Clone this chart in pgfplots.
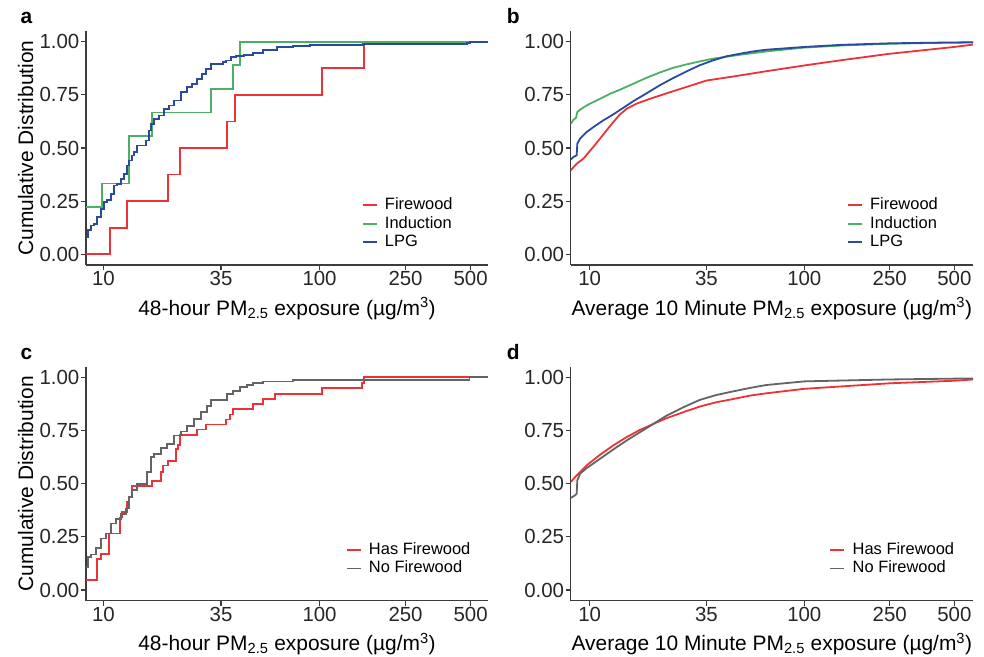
\documentclass[border=0pt]{standalone}
\usepackage{fontspec}
\setmainfont{Liberation Sans}
\usepackage{pgfplots}
\pgfplotsset{compat=1.18}

\definecolor{fw}{RGB}{235,50,55}
\definecolor{ind}{RGB}{76,175,100}
\definecolor{lpg}{RGB}{40,75,160}
\definecolor{nofw}{RGB}{100,100,100}
\definecolor{axgray}{RGB}{60,60,60}

\pgfplotsset{
  scale only axis,
  axis x line*=bottom, axis y line*=left,
  axis line style={draw=axgray, line width=1.2bp, -},
  tick style={draw=axgray, line width=1.2bp},
  tick align=outside, major tick length=5bp,
  tick label style={font=\fontsize{20.5}{24}\selectfont, text=black!85},
  xticklabel style={inner sep=1.5bp},
  yticklabel style={inner sep=1.5bp},
  label style={font=\fontsize{21}{24}\selectfont, text=black},
  every axis plot/.append style={line width=1.8bp},
  legend cell align=left,
}

\begin{document}
\begin{tikzpicture}
\useasboundingbox (0bp,0bp) rectangle (984bp,657bp);

% panel a
\begin{semilogxaxis}[at={(86bp,392bp)}, anchor=south west,
  width=402bp, height=234bp,
  xmin=8.30, xmax=602, ymin=-0.05, ymax=1.05,
  xtick={10,35,100,250,500}, xticklabels={10,35,100,250,500}, minor xtick={},
  ytick={0,0.25,0.5,0.75,1}, yticklabels={0.00,0.25,0.50,0.75,1.00},
  xlabel={48-hour PM\textsubscript{2.5} exposure (µg/m\textsuperscript{3})},
  ylabel={Cumulative Distribution},
  xlabel style={at={(axis description cs:0.5,-0.2137)}, anchor=base},
  ylabel style={at={(axis description cs:-0.1318,0.5)}, anchor=base},
  legend image code/.code={\draw[#1, line width=1.8bp] (0bp,0bp) -- (14bp,0bp); \path (20bp,0bp);},
  legend style={draw=none, fill=none, inner sep=0pt, anchor=north west,
    font=\fontsize{16.5}{18}\selectfont, row sep=0pt,
    nodes={inner sep=1.5bp, text height=12bp, text depth=3.5bp},
    at={(axis description cs:0.6853,0.2957)}}]
\addplot[fw, const plot] coordinates {
(8.30,0) (10.68,0.125) (12.81,0.25) (19.89,0.375) (22.61,0.5) (37.19,0.625)
(40.50,0.75) (102.4,0.875) (160.7,1) (602,1)};
\addplot[ind, const plot] coordinates {
(8.30,0.2222) (9.87,0.3333) (13.16,0.5556) (16.77,0.6667) (31.36,0.7778)
(39.77,0.8889) (42.72,1) (602,1)};
\addplot[lpg, const plot] coordinates {
(8.30,0.081) (8.47,0.113) (8.72,0.136) (9.04,0.141) (9.36,0.175) (9.70,0.215)
(10.05,0.246) (10.41,0.254) (10.80,0.285) (11.18,0.324) (11.58,0.332) (12.01,0.355)
(12.44,0.379) (12.89,0.418) (13.12,0.441) (13.59,0.465) (13.84,0.480) (14.34,0.512)
(15.68,0.535) (16.24,0.582) (16.54,0.614) (17.13,0.637) (18.07,0.653) (19.06,0.684)
(20.10,0.700) (21.21,0.723) (22.78,0.762) (24.43,0.785) (25.77,0.801) (27.19,0.825)
(28.67,0.848) (29.73,0.872) (31.36,0.895) (35.8,0.903) (36.80,0.911) (38.81,0.926)
(40.93,0.934) (44.71,0.939) (49.38,0.945) (54.94,0.961) (63.38,0.973) (75.61,0.981)
(90.37,0.986) (159.5,0.989) (480,0.992) (497.6,1) (602,1)};
\legend{Firewood, Induction, LPG}
\end{semilogxaxis}

% panel b
\begin{semilogxaxis}[at={(570.7bp,392bp)}, anchor=south west,
  width=402.3bp, height=234bp,
  xmin=8.16, xmax=611, ymin=-0.05, ymax=1.05,
  xtick={10,35,100,250,500}, xticklabels={10,35,100,250,500}, minor xtick={},
  ytick={0,0.25,0.5,0.75,1}, yticklabels={0.00,0.25,0.50,0.75,1.00},
  xlabel={Average 10 Minute PM\textsubscript{2.5} exposure (µg/m\textsuperscript{3})},
  xlabel style={at={(axis description cs:0.5,-0.2137)}, anchor=base},
  legend image code/.code={\draw[#1, line width=1.8bp] (0bp,0bp) -- (14bp,0bp); \path (20bp,0bp);},
  legend style={draw=none, fill=none, inner sep=0pt, anchor=north west,
    font=\fontsize{16.5}{18}\selectfont, row sep=0pt,
    nodes={inner sep=1.5bp, text height=12bp, text depth=3.5bp},
    at={(axis description cs:0.686,0.2957)}}]
\addplot[fw] coordinates {
(8.16,0.395) (8.70,0.426) (9.35,0.450) (10.40,0.505) (11.17,0.544) (11.99,0.583)
(12.89,0.622) (13.84,0.658) (14.86,0.684) (16.5,0.708) (19.08,0.731) (22.81,0.757)
(27.29,0.782) (35,0.817) (46.6,0.836) (66.6,0.861) (100,0.888) (147,0.912)
(250,0.943) (500,0.975) (611,0.986)};
\addplot[ind] coordinates {
(8.16,0.613) (8.39,0.632) (8.64,0.642) (8.76,0.669) (9.02,0.680) (9.68,0.700)
(10.40,0.716) (11.17,0.731) (12.44,0.755) (13.84,0.774) (15.96,0.802) (18.41,0.830)
(21.23,0.855) (24.51,0.877) (28.26,0.893) (32.58,0.907) (37.61,0.920) (43.37,0.929)
(50.0,0.938) (57.7,0.946) (66.6,0.954) (100,0.972) (150,0.982) (250,0.990)
(400,0.994) (611,0.996)};
\addplot[lpg] coordinates {
(8.16,0.445) (8.39,0.457) (8.70,0.466) (8.76,0.520) (9.02,0.544) (9.68,0.575)
(10.40,0.598) (11.58,0.630) (12.89,0.658) (14.35,0.689) (15.96,0.720) (18.41,0.757)
(21.23,0.795) (24.51,0.829) (28.26,0.860) (32.58,0.889) (37.61,0.912) (43.37,0.931)
(50.0,0.943) (57.7,0.954) (66.6,0.962) (100,0.975) (150,0.985) (250,0.992)
(400,0.995) (611,0.997)};
\legend{Firewood, Induction, LPG}
\end{semilogxaxis}

% panel c
\begin{semilogxaxis}[at={(86bp,56.3bp)}, anchor=south west,
  width=402bp, height=234bp,
  xmin=8.30, xmax=602, ymin=-0.05, ymax=1.05,
  xtick={10,35,100,250,500}, xticklabels={10,35,100,250,500}, minor xtick={},
  ytick={0,0.25,0.5,0.75,1}, yticklabels={0.00,0.25,0.50,0.75,1.00},
  xlabel={48-hour PM\textsubscript{2.5} exposure (µg/m\textsuperscript{3})},
  ylabel={Cumulative Distribution},
  xlabel style={at={(axis description cs:0.5,-0.2137)}, anchor=base},
  ylabel style={at={(axis description cs:-0.1318,0.5)}, anchor=base},
  legend image code/.code={\draw[#1, line width=1.8bp] (0bp,0bp) -- (14bp,0bp); \path (20bp,0bp);},
  legend style={draw=none, fill=none, inner sep=0pt, anchor=north west,
    font=\fontsize{16.5}{18}\selectfont, row sep=0pt,
    nodes={inner sep=1.5bp, text height=12bp, text depth=3.5bp},
    at={(axis description cs:0.6455,0.257)}}]
\addplot[fw, const plot] coordinates {
(8.30,0.047) (9.30,0.145) (9.77,0.170) (10.60,0.266) (11.88,0.341) (12.22,0.367)
(12.80,0.414) (13.12,0.4375) (13.60,0.489) (16.83,0.511) (18.52,0.555) (18.92,0.586)
(19.89,0.606) (21.59,0.664) (22.13,0.683) (22.61,0.730) (27.19,0.755) (29.83,0.778)
(36.91,0.802) (38.52,0.825) (39.92,0.852) (49.40,0.875) (54.95,0.898) (62.23,0.922)
(102.3,0.948) (157.3,0.974) (160.7,1) (602,1)};
\addplot[nofw, const plot] coordinates {
(8.30,0.109) (8.48,0.156) (8.78,0.167) (9.20,0.198) (9.70,0.242) (10.23,0.266)
(10.80,0.3125) (11.38,0.333) (12.01,0.356) (12.67,0.383) (13.12,0.4375) (13.60,0.469)
(14.34,0.5) (15.40,0.5) (15.96,0.555) (16.54,0.625) (17.13,0.641) (18.39,0.667)
(19.75,0.6875) (21.21,0.727) (22.77,0.745) (24.44,0.773) (26.24,0.805) (28.18,0.836)
(30.25,0.867) (31.35,0.895) (37.19,0.922) (39.9,0.9375) (42.85,0.953) (46.03,0.964)
(49.40,0.973) (54.95,0.980) (75.6,0.989) (493.9,1) (602,1)};
\legend{Has Firewood, No Firewood}
\end{semilogxaxis}

% panel d
\begin{semilogxaxis}[at={(570.7bp,56.3bp)}, anchor=south west,
  width=402.3bp, height=234bp,
  xmin=8.16, xmax=611, ymin=-0.05, ymax=1.05,
  xtick={10,35,100,250,500}, xticklabels={10,35,100,250,500}, minor xtick={},
  ytick={0,0.25,0.5,0.75,1}, yticklabels={0.00,0.25,0.50,0.75,1.00},
  xlabel={Average 10 Minute PM\textsubscript{2.5} exposure (µg/m\textsuperscript{3})},
  xlabel style={at={(axis description cs:0.5,-0.2137)}, anchor=base},
  legend image code/.code={\draw[#1, line width=1.8bp] (0bp,0bp) -- (14bp,0bp); \path (20bp,0bp);},
  legend style={draw=none, fill=none, inner sep=0pt, anchor=north west,
    font=\fontsize{16.5}{18}\selectfont, row sep=0pt,
    nodes={inner sep=1.5bp, text height=12bp, text depth=3.5bp},
    at={(axis description cs:0.6426,0.257)}}]
\addplot[fw] coordinates {
(8.16,0.508) (8.70,0.539) (9.68,0.586) (11.17,0.636) (12.89,0.680) (14.86,0.719)
(17.15,0.753) (19.80,0.781) (22.81,0.808) (27.29,0.836) (32.58,0.8625) (38.95,0.883)
(46.6,0.898) (55.7,0.914) (66.6,0.925) (100,0.946) (250,0.972) (500,0.984) (611,0.990)};
\addplot[nofw] coordinates {
(8.16,0.433) (8.54,0.445) (8.70,0.453) (8.76,0.516) (9.02,0.547) (9.68,0.573)
(11.17,0.617) (12.89,0.661) (14.86,0.703) (17.15,0.742) (19.80,0.781) (22.81,0.820)
(27.29,0.859) (32.58,0.894) (38.95,0.917) (46.6,0.934) (55.7,0.950) (66.6,0.964)
(100,0.981) (250,0.990) (611,0.995)};
\legend{Has Firewood, No Firewood}
\end{semilogxaxis}

\node[anchor=base west, font=\fontsize{21}{24}\selectfont\bfseries] at (17bp,633bp) {a};
\node[anchor=base west, font=\fontsize{21}{24}\selectfont\bfseries] at (503.3bp,633bp) {b};
\node[anchor=base west, font=\fontsize{21}{24}\selectfont\bfseries] at (17bp,297bp) {c};
\node[anchor=base west, font=\fontsize{21}{24}\selectfont\bfseries] at (503.3bp,297bp) {d};
\end{tikzpicture}
\end{document}
